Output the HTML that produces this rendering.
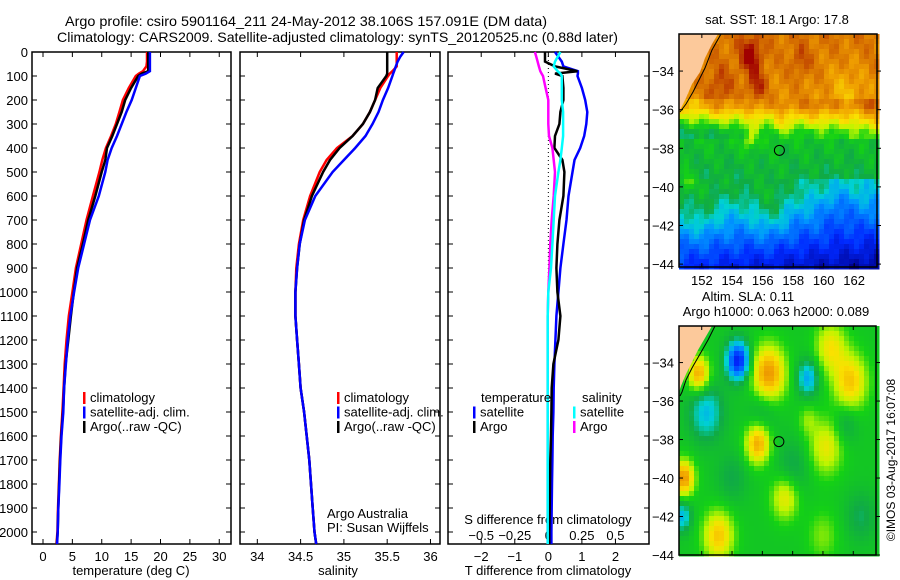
<!DOCTYPE html>
<html><head><meta charset="utf-8">
<style>
html,body{margin:0;padding:0;background:#fff;}
svg{display:block;font-family:"Liberation Sans",sans-serif;}
text{fill:#000;}
</style></head>
<body>
<svg id="chart" width="900" height="580" viewBox="0 0 900 580" xmlns="http://www.w3.org/2000/svg">
<g id="maps"></g>
<g id="plots"></g>
<text x="65" y="26" font-size="14" textLength="482" lengthAdjust="spacingAndGlyphs">Argo profile: csiro 5901164_211 24-May-2012 38.106S 157.091E (DM data)</text>
<text x="57" y="42" font-size="14" textLength="561" lengthAdjust="spacingAndGlyphs">Climatology: CARS2009. Satellite-adjusted climatology: synTS_20120525.nc (0.88d later)</text>
</svg>
<script>
// ---- data ----
const depths = [0,20,40,60,80,90,100,150,200,250,300,350,400,450,500,600,700,800,900,1000,1100,1200,1300,1400,1500,1600,1700,1800,1900,2000,2050];
const tempClim = [17.7,17.7,17.7,17.6,17.0,16.3,15.8,14.6,13.6,13.0,12.4,11.6,10.7,10.1,9.6,8.5,7.4,6.5,5.6,5.0,4.4,4.0,3.7,3.5,3.3,3.05,2.85,2.7,2.55,2.45,2.3];
const tempSat = [18.2,18.2,18.2,18.2,18.2,17.5,16.5,15.8,15.1,14.2,13.4,12.6,11.7,11.0,10.6,9.5,8.0,7.0,6.0,5.3,4.65,4.2,3.9,3.6,3.45,3.15,2.95,2.8,2.6,2.5,2.4];
const tempArgo = [17.9,17.9,17.9,17.9,17.9,16.8,16.2,15.0,14.0,13.4,12.6,11.8,10.9,10.6,10.0,8.9,7.7,6.8,5.8,5.25,4.75,4.3,3.85,3.6,3.4,3.1,2.9,2.75,2.6,2.5,2.35];
const salClim = [35.61,35.61,35.61,35.61,35.56,35.53,35.51,35.42,35.36,35.30,35.22,35.10,34.92,34.80,34.72,34.61,34.53,34.48,34.45,34.44,34.44,34.46,34.48,34.50,34.54,34.57,34.60,34.62,34.64,34.66,34.68];
const salSat = [35.69,35.65,35.62,35.60,35.58,35.57,35.56,35.51,35.45,35.40,35.33,35.25,35.13,35.00,34.87,34.67,34.55,34.49,34.46,34.44,34.44,34.46,34.48,34.50,34.54,34.57,34.60,34.62,34.64,34.66,34.68];
const salArgo = [35.50,35.50,35.50,35.50,35.50,35.50,35.49,35.39,35.36,35.30,35.22,35.10,34.95,34.84,34.76,34.63,34.54,34.49,34.46,34.44,34.44,34.46,34.48,34.50,34.54,34.57,34.60,34.62,34.64,34.66,34.68];
const dTsat = [0.2,0.3,0.4,0.45,0.88,0.88,0.87,1.0,1.1,1.16,1.13,1.07,0.95,0.78,0.72,0.6,0.54,0.45,0.36,0.3,0.24,0.21,0.18,0.16,0.15,0.13,0.12,0.11,0.1,0.09,0.09];
const dTargo = [-0.1,-0.1,-0.1,0.2,0.87,0.2,0.42,0.45,0.45,0.36,0.33,0.2,0.18,0.42,0.48,0.45,0.33,0.27,0.24,0.27,0.36,0.3,0.15,0.1,0.09,0.08,0.06,0.05,0.04,0.03,0.03];
const dSsat = [0.09,0.07,0.05,0.04,0.07,0.09,0.1,0.1,0.1,0.11,0.11,0.11,0.1,0.09,0.075,0.05,0.04,0.03,0.02,0.0,-0.005,-0.005,-0.005,-0.005,-0.005,-0.005,-0.005,-0.005,-0.005,-0.005,-0.005];
const dSargo = [-0.1,-0.09,-0.08,-0.07,-0.06,-0.05,-0.04,-0.02,0.0,0.0,0.0,0.005,0.03,0.04,0.05,0.04,0.025,0.015,0.008,0.0,-0.005,-0.005,-0.005,-0.005,-0.005,-0.005,-0.005,-0.005,-0.005,-0.005,-0.005];
const depthTicks = [0,100,200,300,400,500,600,700,800,900,1000,1100,1200,1300,1400,1500,1600,1700,1800,1900,2000];
const tempTicks = [0,5,10,15,20,25,30];
const salTicks = [34,34.5,35,35.5,36];
const dTTicks = [-2,-1,0,1,2];
const dSTicks = [-0.5,-0.25,0,0.25,0.5];
const latTicks = [-34,-36,-38,-40,-42,-44];
const lonTicks = [152,154,156,158,160,162];

const NS='http://www.w3.org/2000/svg';
function el(tag,attrs,parent){const e=document.createElementNS(NS,tag);for(const k in attrs)e.setAttribute(k,attrs[k]);parent.appendChild(e);return e;}
const plots=document.getElementById('plots');
const maps=document.getElementById('maps');
const TOP=52,BOT=544;
const yD=d=>TOP+(d/2050)*(BOT-TOP);

const panels=[
 {name:'temperature',x0:32,x1:231,v0:-1.87,v1:32.0},
 {name:'salinity',x0:240,x1:440,v0:33.8,v1:36.11},
 {name:'difference',x0:448,x1:649,v0:-2.99,v1:3.0}
];
function sx(p,v){return p.x0+(v-p.v0)/(p.v1-p.v0)*(p.x1-p.x0);}

panels.forEach((p,i)=>{
  const r=el('rect',{x:p.x0,y:TOP,width:p.x1-p.x0,height:BOT-TOP,fill:'none',stroke:'#000','stroke-width':1.5},plots);
  
  
  depthTicks.forEach(d=>{
    const y=yD(d);
    const t1=el('line',{x1:p.x0,x2:p.x0+5,y1:y,y2:y,stroke:'#000'},plots);
    
    
    const t2=el('line',{x1:p.x1-5,x2:p.x1,y1:y,y2:y,stroke:'#000'},plots);
    
    
  });
});
depthTicks.forEach(d=>{
  const t=el('text',{x:28,y:yD(d)+5,'font-size':13,'text-anchor':'end'},plots);
  t.textContent=d;
  
  
});
function xTicks(p,ticks,labelY,fmt){
  ticks.forEach(v=>{
    const x=sx(p,v);
    const a=el('line',{x1:x,x2:x,y1:BOT,y2:BOT-5,stroke:'#000'},plots);
    
    
    const b=el('line',{x1:x,x2:x,y1:TOP,y2:TOP+5,stroke:'#000'},plots);
    
    
    const t=el('text',{x:x,y:labelY,'font-size':13,'text-anchor':'middle'},plots);
    t.textContent=fmt(v);
    
    
  });
}
const mfmt=v=>String(v).replace('-','\u2212');
xTicks(panels[0],tempTicks,561,mfmt);
xTicks(panels[1],salTicks,561,mfmt);
xTicks(panels[2],dTTicks,561,mfmt);
const pS={x0:448,x1:649,v0:-0.7475,v1:0.75};
dSTicks.forEach(v=>{
  const x=sx(pS,v);
  const t=el('text',{x:x,y:540,'font-size':13,'text-anchor':'middle'},plots);
  t.textContent=mfmt(v);
  
  
});
function label(x,y,txt,name,anchor,size){const t=el('text',{x:x,y:y,'font-size':size||13,'text-anchor':anchor||'middle'},plots);t.textContent=txt;return t;}
label(131,575,'temperature (deg C)','temperature-axis-title');
label(338,575,'salinity','salinity-axis-title');
label(548,575,'T difference from climatology','t-diff-axis-title');
label(548,524,'S difference from climatology','s-diff-axis-title');
label(327,518,'Argo Australia','credit-line-1','start');
label(327,532,'PI: Susan Wijffels','credit-line-2','start');

const zl=el('line',{x1:sx(panels[2],0),x2:sx(panels[2],0),y1:TOP,y2:BOT,stroke:'#000','stroke-dasharray':'1,3'},plots);



function series(p,vals,color,name){
  const pts=depths.map((d,i)=>sx(p,vals[i]).toFixed(1)+','+yD(d).toFixed(1)).join(' ');
  const l=el('polyline',{points:pts,fill:'none',stroke:color,'stroke-width':2.5,'stroke-linejoin':'miter'},plots);
  
  
}
series(panels[0],tempClim,'#ff0000','temperature-climatology-line');
series(panels[0],tempArgo,'#000000','temperature-argo-line');
series(panels[0],tempSat,'#0000ff','temperature-satellite-line');
series(panels[1],salClim,'#ff0000','salinity-climatology-line');
series(panels[1],salArgo,'#000000','salinity-argo-line');
series(panels[1],salSat,'#0000ff','salinity-satellite-line');
series(panels[2],dTsat,'#0000ff','t-diff-satellite-line');
series(panels[2],dTargo,'#000000','t-diff-argo-line');
series(pS,dSargo,'#ff00ff','s-diff-argo-line');
series(pS,dSsat,'#00ffff','s-diff-satellite-line');

function legend(x,y,items,prefix){
  items.forEach((it,i)=>{
    const yy=y+i*14.5;
    const b=el('rect',{x:x,y:yy-10,width:2.5,height:12,fill:it[1]},plots);
    
    
    label(x+7,yy,it[0],prefix+'-legend-entry','start');
  });
}
legend(83,402,[['climatology','#ff0000'],['satellite-adj. clim.','#0000ff'],['Argo(..raw -QC)','#000000']],'temperature');
legend(337,402,[['climatology','#ff0000'],['satellite-adj. clim.','#0000ff'],['Argo(..raw -QC)','#000000']],'salinity');
label(481,402,'temperature','diff-legend-temperature-heading','start');
label(582,402,'salinity','diff-legend-salinity-heading','start');
legend(473,416.5,[['satellite','#0000ff'],['Argo','#000000']],'t-diff');
legend(573,416.5,[['satellite','#00ffff'],['Argo','#ff00ff']],'s-diff');

// ---- maps ----
const stops=[[0,[0,0,140]],[0.15,[0,40,255]],[0.3,[0,150,255]],[0.38,[0,210,210]],[0.45,[16,170,70]],[0.55,[20,210,20]],[0.63,[190,245,0]],[0.7,[250,225,0]],[0.8,[240,160,0]],[0.9,[205,95,0]],[1,[160,0,0]]];
function cmap(v){v=Math.max(0,Math.min(1,v));for(let i=1;i<stops.length;i++){if(v<=stops[i][0]){const a=stops[i-1],b=stops[i],t=(v-a[0])/(b[0]-a[0]);return 'rgb('+a[1].map((c,k)=>Math.round(c+(b[1][k]-c)*t)).join(',')+')';}}return 'rgb(160,0,0)';}
function drawMap(m,field,prefix){
  const lx=lon=>m.x0+(lon-m.lon0)/(m.lon1-m.lon0)*(m.x1-m.x0);
  const ly=lat=>m.y0+(m.lat0-lat)/(m.lat0-m.lat1)*(m.y1-m.y0);
  const g=el('g',{},maps);
  
  
  const cw=5,ch=5;
  for(let y=m.y0;y<m.y1;y+=ch){for(let x=m.x0;x<m.x1;x+=cw){
    const lon=m.lon0+(x+cw/2-m.x0)/(m.x1-m.x0)*(m.lon1-m.lon0);
    const lat=m.lat0-(y+ch/2-m.y0)/(m.y1-m.y0)*(m.lat0-m.lat1);
    el('rect',{x:x,y:y,width:cw+0.5,height:ch+0.5,fill:cmap(field(lon,lat))},g);
  }}
  const land=el('polygon',{points:m.land,fill:'#fcc99b'},maps);
  
  
  const cl=el('polyline',{points:m.coast,fill:'none',stroke:'#000','stroke-width':1},maps);
  
  
  const fr=el('rect',{x:m.x0,y:m.y0,width:m.x1-m.x0,height:m.y1-m.y0,fill:'none',stroke:'#000','stroke-width':1.5},maps);
  
  
  latTicks.forEach(la=>{
    const y=ly(la);
    el('line',{x1:m.x0,x2:m.x0+4,y1:y,y2:y,stroke:'#000'},maps);
    el('line',{x1:m.x1,x2:m.x1+4,y1:y,y2:y,stroke:'#000'},maps);
    const t=el('text',{x:m.x0-5,y:y+5,'font-size':13,'text-anchor':'end'},maps);
    t.textContent=mfmt(la);
    
    
  });
  lonTicks.forEach(lo=>{
    const x=lx(lo);
    el('line',{x1:x,x2:x,y1:m.y1,y2:m.y1-4,stroke:'#000'},maps);
    el('line',{x1:x,x2:x,y1:m.y0,y2:m.y0+4,stroke:'#000'},maps);
    if(m.lonLabels){
      const t=el('text',{x:x,y:m.y1+18,'font-size':13,'text-anchor':'middle'},maps);
      t.textContent=lo;
      
      
    }
  });
  const c=el('circle',{cx:lx(157.091),cy:ly(-38.106),r:5,fill:'none',stroke:'#000','stroke-width':1},maps);
  
  
}
function gauss(lon,lat,b){const dx=(lon-b[0])/b[3],dy=(lat-b[1])/(b[3]*1.3);return b[2]*Math.exp(-(dx*dx+dy*dy));}
const sstBlobs=[[155.2,-33.2,0.16,0.7],[155.6,-34.8,0.12,0.6],[153.2,-34.9,0.09,0.9],[158.5,-33.5,0.07,0.6],[161.5,-35.2,-0.07,1.2],[155.2,-37.4,0.14,0.5],[157.2,-37.0,0.1,0.4],[151,-39.6,0.1,0.4],[156.5,-41.2,0.09,1.2],[152,-41.5,0.06,0.8],[161,-41,-0.06,1]];
function sst(lon,lat){
  let v;
  if(lat>-35.8)v=0.83+(lat+35.8)*0.01;
  else if(lat>-37.2)v=0.83-(-35.8-lat)*0.22;
  else if(lat>-40.2)v=0.52-(-37.2-lat)*0.025;
  else v=0.445-(-40.2-lat)*0.085;
  if(lat<-39.5)v-=(lon-155)*0.01;
  if(lat<-35.5&&lat>-37.6)v+=(lon-157)*0.012;
  sstBlobs.forEach(b=>v+=gauss(lon,lat,b));
  v+=0.025*Math.sin(lon*3.1+lat*2.3)+0.02*Math.sin(lon*5.7-lat*4.1);
  return v;
}
const slaBlobs=[[154.4,-33.9,-0.4,0.75],[156.4,-34.6,0.3,1.1],[159,-34.8,-0.2,0.7],[151.8,-34.6,0.27,0.7],[161.8,-35,0.22,1.1],[160.5,-33.2,0.17,1.0],[152.3,-36.6,-0.17,1.1],[155.7,-38.2,0.27,0.8],[160.2,-38.4,0.16,1.1],[150.8,-40,0.3,0.7],[157.5,-41,0.17,0.9],[153.1,-43,0.22,1.0],[150.7,-42,-0.18,0.6],[158,-39.5,-0.08,1.1],[162.5,-42,-0.08,1.0],[160,-43,0.08,1.0],[156,-36.5,-0.08,1.0],[161.5,-37.2,-0.08,0.8],[154,-40,-0.07,1],[159,-37,0.08,0.6]];
function sla(lon,lat){let v=0.52;slaBlobs.forEach(b=>v+=gauss(lon,lat,b));return v;}
drawMap({x0:679,x1:877,y0:34,y1:267,lon0:150.5,lon1:163.5,lat0:-32.08,lat1:-44.15,lonLabels:true,
  land:'679,34 718,34 712,44 705,58 700,72 692,84 686,98 679,112',
  coast:'721,34 712,50 705,68 698,82 693,92 686,104 680,112'},sst,'sst');
drawMap({x0:679,x1:876,y0:326,y1:555,lon0:150.5,lon1:163.5,lat0:-32.1,lat1:-44.0,lonLabels:false,
  land:'679,326 712,326 705,338 698,350 692,362 686,374 681,386 679,392',
  coast:'715,326 708,340 700,354 692,368 686,380 682,392 680,396'},sla,'sla');
function mlabel(x,y,txt,name){const t=el('text',{x:x,y:y,'font-size':13,'text-anchor':'middle'},maps);t.textContent=txt;}
mlabel(777,24,'sat. SST: 18.1 Argo: 17.8','sst-map-title');
mlabel(748,301,'Altim. SLA: 0.11','sla-map-title-1');
mlabel(776,316,'Argo h1000: 0.063 h2000: 0.089','sla-map-title-2');
const cr=el('text',{x:0,y:0,'font-size':12,'text-anchor':'middle',transform:'translate(895,460) rotate(-90)'},maps);
cr.textContent='\u00a9IMOS 03-Aug-2017 16:07:08';


</script>
</body></html>
